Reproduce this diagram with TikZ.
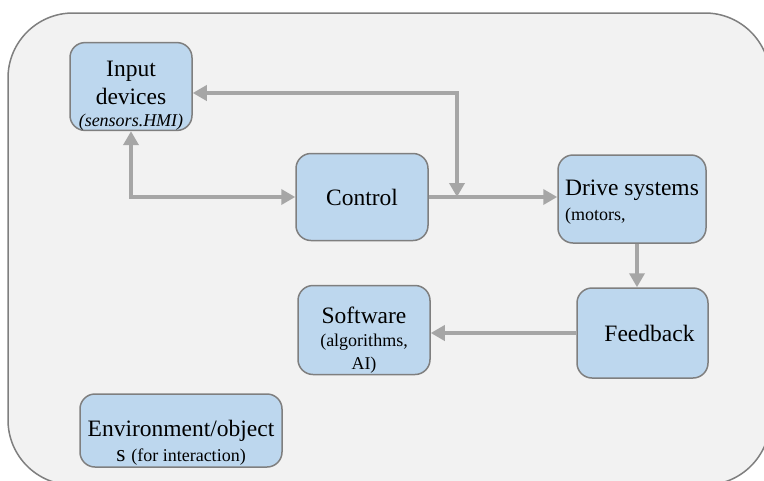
\documentclass[tikz,border=0pt]{standalone}
\usepackage{fontspec}
\setmainfont{Liberation Serif}
\usetikzlibrary{positioning, arrows.meta}
\definecolor{boxblue}{HTML}{BDD7EE}
\definecolor{boxline}{HTML}{7F7F7F}
\definecolor{bggray}{HTML}{F2F2F2}
\definecolor{arrowgray}{HTML}{A6A6A6}
\newcommand{\mainsz}{\fontsize{23.5}{28}\selectfont}
\newcommand{\smallsz}{\fontsize{18}{22}\selectfont}

\begin{document}
\begin{tikzpicture}[x=1pt, y=-1pt,
      block/.style={rectangle, rounded corners=15pt, draw=boxline, line width=1.5pt,
        fill=boxblue, inner sep=0pt, align=center, font=\mainsz},
      conn/.style={draw=arrowgray, line width=4pt, -{Triangle[length=14pt,width=15pt]}},
      conn2/.style={conn, {Triangle[length=14pt,width=15pt]}-{Triangle[length=14pt,width=15pt]}}]
      \useasboundingbox (0,0) rectangle (764,480);
      \clip (0,0) rectangle (764,480);
      % frame
      \draw[draw=boxline, line width=1.5pt, fill=bggray, rounded corners=65pt] (8,13) rectangle (770,485);
      % blocks
      \node[block, minimum width=122pt, minimum height=87pt](input) at(131,86.5)
        {\rule{0pt}{34pt}Input\\devices\\[-6pt]{\smallsz\itshape (sensors.HMI)}};
      \node[block, minimum width=132pt, minimum height=87pt](control) at(362,197) {Control};
      \node[block, minimum width=148pt, minimum height=88pt, align=left](drive) at(632,199)
        {\rule{0pt}{22pt}Drive systems\\[-3pt]{\smallsz (motors,}};
      \node[block, minimum width=131pt, minimum height=90pt](feedback) at(642.5,333) {\hspace{14pt}Feedback};
      \node[block, minimum width=132pt, minimum height=89pt](software) at(364,330)
        {\rule{0pt}{36pt}Software\\[-5pt]{\smallsz (algorithms,}\\[-5pt]{\smallsz AI)}};
      \node[block, minimum width=202pt, minimum height=73pt](env) at(181,430.5)
        {\rule{0pt}{40pt}Environment/object\\[-3pt]s {\smallsz (for interaction)}};
      % connectors
      \coordinate (join) at(457,197);
      \path[conn] (control.east) -- (control.east -| drive.west);
      \path[conn2] ([yshift=-6.5pt]input.east) -| (join);
      \path[conn2] (input.south) |- (control.west);
      \path[conn] ([xshift=5pt]drive.south) -- ([xshift=5pt]drive.south |- feedback.north);
      \path[conn] (feedback.west) -- (feedback.west -| software.east);
\end{tikzpicture}
\end{document}
